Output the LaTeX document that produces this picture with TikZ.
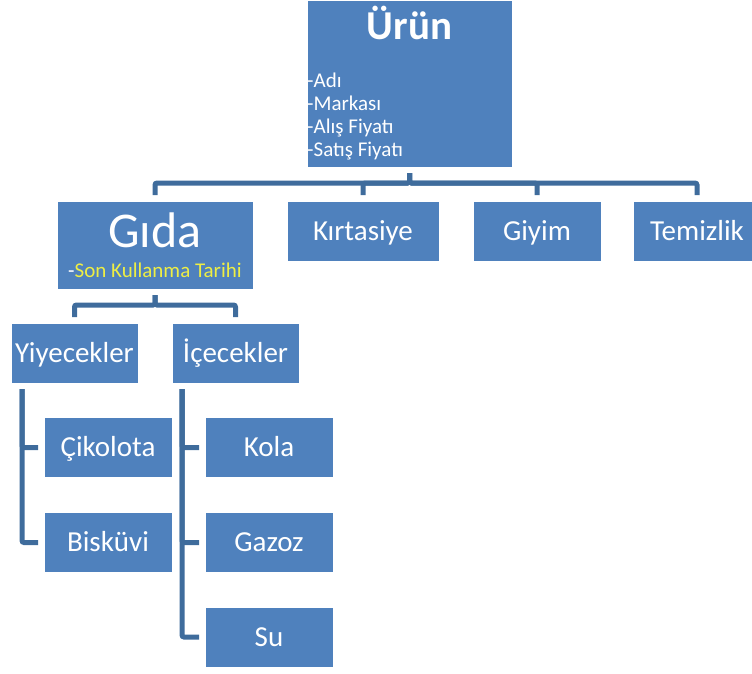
\documentclass[tikz,border=0pt]{standalone}
\usepackage{fontspec}
\setmainfont{Carlito}
\usetikzlibrary{positioning}
\definecolor{cbox}{HTML}{4F81BD}
\definecolor{clink}{HTML}{3F6C9C}
\definecolor{cyellow}{HTML}{EEEE44}
\tikzset{
  box/.style={draw=white, line width=0.8pt, fill=cbox, text=white, minimum width=128pt, minimum height=60pt,
    outer sep=6pt, inner sep=0pt, font=\fontsize{29}{33}\selectfont, text height=18.5pt, text depth=0pt},
  link/.style={draw=clink, line width=5pt, rounded corners=2pt},
  item/.style={text=white, font=\fontsize{21}{25}\selectfont, inner sep=0pt, anchor=base west},
}

\begin{document}
\begin{tikzpicture}[x=1pt, y=-1pt]
  \clip (0,0) rectangle (752,673);
  % top level
  \node[box, minimum width=205pt, minimum height=167pt] (urun) at (409.5,83.5) {};
  \node[text=white, font=\fontsize{41}{45}\selectfont\bfseries, inner sep=0pt, anchor=base] (urunT) at (409.5,39) {Ürün};
  \foreach \t [count=\i] in {Adı, Markası, Alış Fiyatı, Satış Fiyatı}
    \node[item] (urunL\i) at (307,64+23*\i) {-\t};
  % second level
  \node[box, minimum width=196pt, minimum height=88pt] (gida) at (155,245) {};
  \node[text=white, font=\fontsize{50}{54}\selectfont, inner sep=0pt, anchor=base] (gidaT) at (155,247) {Gıda};
  \node[item, anchor=base] (gidaL) at (155,277) {-\textcolor{cyellow}{Son Kullanma Tarihi}};
  \node[box, minimum width=152pt] (kirt) at (363,231) {Kırtasiye};
  \node[box] (giyim) at (537,231) {Giyim};
  \node[box] (temiz) at (697,231) {Temizlik};
  % third level
  \node[box, minimum width=127pt] (yiy) at (74.5,353) {Yiyecekler};
  \node[box, minimum width=127pt] (ice) at (235.5,353) {İçecekler};
  \node[box] (cik) at (108,447.5) {Çikolota};
  \node[box] (bis) at (108,542.5) {Bisküvi};
  \node[box] (kola) at (269,447.5) {Kola};
  \node[box] (gazoz) at (269,542.5) {Gazoz};
  \node[box] (su) at (269,637) {Su};
  % connectors
  \coordinate (busA) at (0,183);
  \coordinate (busB) at (0,305);
  \coordinate (spineA) at (22,0);
  \coordinate (spineB) at (182,0);
  \foreach \n in {gida, kirt, giyim, temiz}
    \draw[link] (urun.south) -- (urun.south |- busA) -| (\n.north);
  \foreach \n in {yiy, ice}
    \draw[link] (gida.south) -- (gida.south |- busB) -| (\n.north);
  \foreach \n in {cik, bis}
    \draw[link] (yiy.south -| spineA) |- (\n.west);
  \foreach \n in {kola, gazoz, su}
    \draw[link] (ice.south -| spineB) |- (\n.west);
\end{tikzpicture}
\end{document}
